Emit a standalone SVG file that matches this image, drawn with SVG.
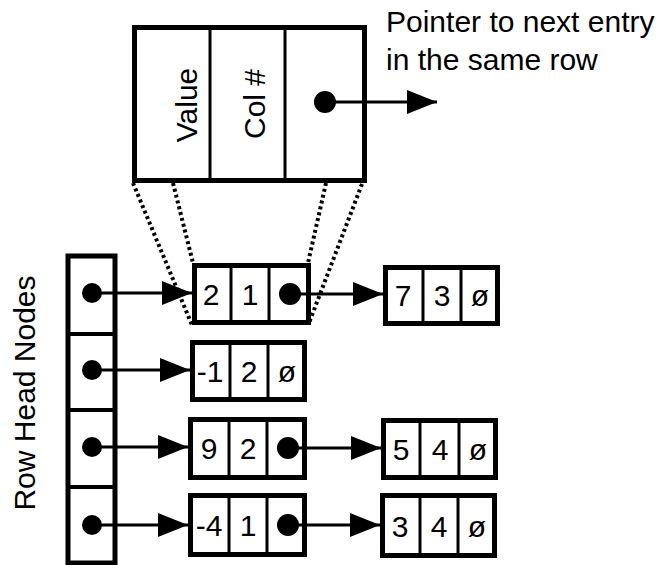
<svg xmlns="http://www.w3.org/2000/svg" width="670" height="565" viewBox="0 0 670 565">
<style>
  .box{fill:#fff;stroke:#000;stroke-width:5}
  .div{stroke:#000;stroke-width:3}
  .t{font-family:"Liberation Sans",Arial,sans-serif;font-size:30px;fill:#000;text-anchor:middle}
  .lbl{font-family:"Liberation Sans",Arial,sans-serif;font-size:30px;fill:#000}
  .ln{stroke:#000;stroke-width:3;fill:none}
  .dot{fill:#000}
  .proj{stroke:#000;stroke-width:4;stroke-dasharray:3 3;fill:none}
</style>
<defs>
  <marker id="ah" markerUnits="userSpaceOnUse" markerWidth="32" markerHeight="26" refX="30" refY="12" orient="auto">
    <path d="M0,0 L30,12 L0,24 Z" fill="#000"/>
  </marker>
</defs>
<rect width="670" height="565" fill="#fff"/>

<g id="legend-node">
  <rect class="box" x="134.5" y="27.5" width="230" height="153"/>
  <line class="div" x1="210" y1="27" x2="210" y2="180"/>
  <line class="div" x1="285" y1="27" x2="285" y2="180"/>
  <text class="t" transform="translate(197,105) rotate(-90)">Value</text>
  <text class="t" transform="translate(265,104) rotate(-90)">Col #</text>
  <circle class="dot" cx="325" cy="102" r="11"/>
</g>

<g id="pointer-label">
  <text class="lbl" x="386" y="32">Pointer to next entry</text>
  <text class="lbl" x="386" y="70">in the same row</text>
</g>

<g id="row-heads">
  <rect class="box" x="68" y="256" width="47" height="307"/>
  <line class="div" x1="68" y1="334" x2="115" y2="334" style="stroke-width:4"/>
  <line class="div" x1="68" y1="410" x2="115" y2="410" style="stroke-width:4"/>
  <line class="div" x1="68" y1="487" x2="115" y2="487" style="stroke-width:4"/>
  <circle class="dot" cx="92" cy="293" r="10"/>
  <circle class="dot" cx="92" cy="370" r="10"/>
  <circle class="dot" cx="92" cy="447" r="10"/>
  <circle class="dot" cx="92" cy="525" r="10"/>
  <text class="t" transform="translate(35,393) rotate(-90)">Row Head Nodes</text>
</g>

<g id="n-2-1">
  <rect class="box" x="194.5" y="265.5" width="114" height="57"/>
  <line class="div" x1="231" y1="265" x2="231" y2="323"/>
  <line class="div" x1="269" y1="265" x2="269" y2="323"/>
  <text class="t" x="211" y="305">2</text>
  <text class="t" x="250" y="305">1</text>
  <circle class="dot" cx="290" cy="294" r="11"/>
</g>

<g id="n-7-3">
  <rect class="box" x="385.5" y="267.5" width="112" height="56"/>
  <line class="div" x1="423" y1="267" x2="423" y2="324"/>
  <line class="div" x1="461" y1="267" x2="461" y2="324"/>
  <text class="t" x="403" y="306">7</text>
  <text class="t" x="442" y="306">3</text>
  <text class="t" x="480" y="306">ø</text>
</g>

<g id="n-m1-2">
  <rect class="box" x="192.5" y="342.5" width="112" height="57"/>
  <line class="div" x1="230" y1="342" x2="230" y2="400"/>
  <line class="div" x1="268" y1="342" x2="268" y2="400"/>
  <text class="t" x="210" y="382">-1</text>
  <text class="t" x="249" y="382">2</text>
  <text class="t" x="287" y="382">ø</text>
</g>

<g id="n-9-2">
  <rect class="box" x="190.5" y="419.5" width="114" height="58"/>
  <line class="div" x1="229" y1="419" x2="229" y2="478"/>
  <line class="div" x1="267" y1="419" x2="267" y2="478"/>
  <text class="t" x="209" y="459">9</text>
  <text class="t" x="248" y="459">2</text>
  <circle class="dot" cx="288" cy="448" r="11"/>
</g>

<g id="n-5-4">
  <rect class="box" x="383.5" y="420.5" width="112" height="57"/>
  <line class="div" x1="420" y1="420" x2="420" y2="478"/>
  <line class="div" x1="459" y1="420" x2="459" y2="478"/>
  <text class="t" x="401" y="460">5</text>
  <text class="t" x="440" y="460">4</text>
  <text class="t" x="478" y="460">ø</text>
</g>

<g id="n-m4-1">
  <rect class="box" x="190.5" y="495.5" width="114" height="59"/>
  <line class="div" x1="229" y1="495" x2="229" y2="555"/>
  <line class="div" x1="267" y1="495" x2="267" y2="555"/>
  <text class="t" x="209" y="536">-4</text>
  <text class="t" x="248" y="536">1</text>
  <circle class="dot" cx="288" cy="525" r="11"/>
</g>

<g id="n-3-4">
  <rect class="box" x="382.5" y="495.5" width="112" height="60"/>
  <line class="div" x1="420" y1="495" x2="420" y2="556"/>
  <line class="div" x1="458" y1="495" x2="458" y2="556"/>
  <text class="t" x="400" y="537">3</text>
  <text class="t" x="439" y="537">4</text>
  <text class="t" x="477" y="537">ø</text>
</g>

<g id="connectors">
  <line class="ln" x1="325" y1="102" x2="437" y2="102" marker-end="url(#ah)"/>
  <line class="ln" x1="92" y1="293" x2="192" y2="293" marker-end="url(#ah)"/>
  <line class="ln" x1="92" y1="370" x2="190" y2="370" marker-end="url(#ah)"/>
  <line class="ln" x1="92" y1="447" x2="188" y2="447" marker-end="url(#ah)"/>
  <line class="ln" x1="92" y1="525" x2="188" y2="525" marker-end="url(#ah)"/>
  <line class="ln" x1="290" y1="294" x2="383" y2="294" marker-end="url(#ah)"/>
  <line class="ln" x1="288" y1="448" x2="381" y2="448" marker-end="url(#ah)"/>
  <line class="ln" x1="288" y1="525" x2="380" y2="525" marker-end="url(#ah)"/>
  <line class="proj" x1="133" y1="183" x2="192" y2="325"/>
  <line class="proj" x1="173" y1="183" x2="193" y2="263"/>
  <line class="proj" x1="326" y1="183" x2="308" y2="263"/>
  <line class="proj" x1="362" y1="184" x2="309" y2="323"/>
</g>
</svg>
